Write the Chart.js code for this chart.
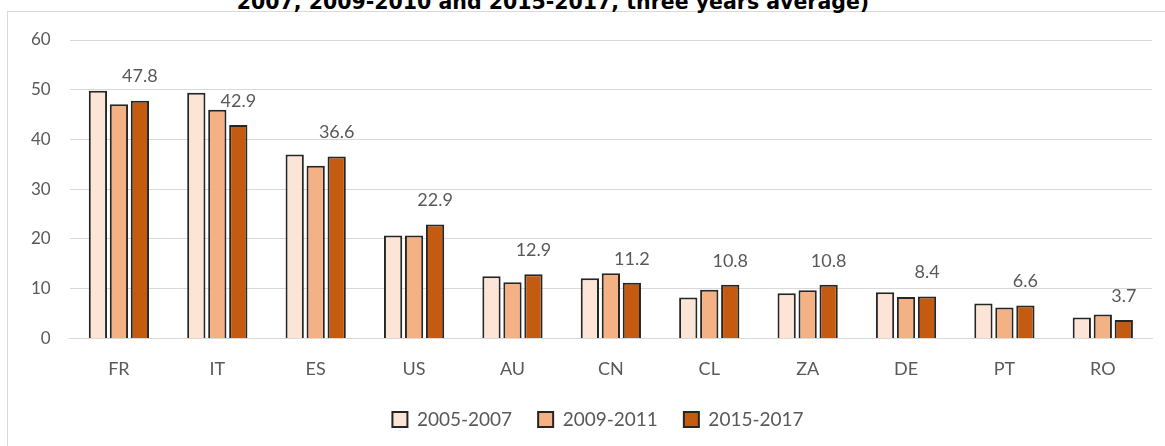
<!DOCTYPE html>
<html>
<head>
<meta charset="utf-8">
<script src="https://cdn.jsdelivr.net/npm/chart.js@4"></script>
<style>
  html, body { margin: 0; padding: 0; background: #fff; overflow: hidden; }
  #wrap { position: relative; width: 1165px; height: 446px; }
  #frame { position: absolute; left: 7px; top: 11px; width: 1200px; height: 500px; border: 1px solid #d9d9d9; box-sizing: border-box; }
  #title { position: absolute; left: 0; width: 1106px; top: -9px; text-align: center;
           font: bold 20.5px "DejaVu Sans", Verdana, sans-serif; color: #000; line-height: 22px; white-space: nowrap; }
  #chartBox { position: absolute; left: 0; top: 0; width: 1165px; height: 446px; }
</style>
</head>
<body>
<div id="wrap">
  <div id="frame"></div>
  <div id="title">2007, 2009-2010 and 2015-2017, three years average)</div>
  <div id="chartBox"><canvas id="wineChart"></canvas></div>
</div>
<script>
// categories and series
var countries = ['FR', 'IT', 'ES', 'US', 'AU', 'CN', 'CL', 'ZA', 'DE', 'PT', 'RO'];
var avg2005_2007 = [49.8, 49.4, 37.0, 20.7, 12.5, 12.1, 8.2, 9.1, 9.3, 7.0, 4.2];
var avg2009_2011 = [47.1, 46.0, 34.7, 20.7, 11.3, 13.1, 9.8, 9.7, 8.3, 6.2, 4.8];
var avg2015_2017 = [47.8, 42.9, 36.6, 22.9, 12.9, 11.2, 10.8, 10.8, 8.4, 6.6, 3.7];
var seriesNames = ['2005-2007', '2009-2011', '2015-2017'];
var yTicks = [0, 10, 20, 30, 40, 50, 60];

var gray = '#595959';
var mainFont = 'Lato, "Open Sans", sans-serif';

// value labels over the last series only
var lastValueLabels = {
  id: 'lastValueLabels',
  afterDatasetsDraw: function(chart) {
    var ctx = chart.ctx;
    var meta = chart.getDatasetMeta(2);
    ctx.save();
    ctx.font = '18px ' + mainFont;
    ctx.fillStyle = gray;
    ctx.textAlign = 'center';
    ctx.textBaseline = 'middle';
    meta.data.forEach(function(bar, i) {
      ctx.fillText(avg2015_2017[i].toFixed(1), bar.x, bar.y - 24);
    });
    ctx.restore();
  }
};

// legend sits a bit right of centre (and a bit higher) in the original
var legendShift = {
  id: 'legendShift',
  afterLayout: function(chart) {
    if (chart.legend) {
      chart.legend.left += 16;
      chart.legend.right += 16;
      chart.legend.top -= 16;
      chart.legend.bottom -= 16;
    }
  }
};

var ctx = document.getElementById('wineChart').getContext('2d');
new Chart(ctx, {
  type: 'bar',
  data: {
    labels: countries,
    datasets: [{
      label: seriesNames[0],
      data: avg2005_2007,
      backgroundColor: '#FCE4D6',
      borderColor: '#262626',
      borderWidth: 2
    }, {
      label: seriesNames[1],
      data: avg2009_2011,
      backgroundColor: '#F4B183',
      borderColor: '#262626',
      borderWidth: 2
    }, {
      label: seriesNames[2],
      data: avg2015_2017,
      backgroundColor: '#C55A11',
      borderColor: '#262626',
      borderWidth: 2
    }]
  },
  plugins: [lastValueLabels, legendShift],
  options: {
    responsive: true,
    maintainAspectRatio: false,
    animation: false,
    datasets: {
      bar: { categoryPercentage: 0.64, barPercentage: 0.87 }
    },
    layout: { padding: { top: 40, right: 13, bottom: -9, left: 12 } },
    scales: {
      x: {
        grid: { display: false, drawTicks: false },
        border: { display: true, color: '#d9d9d9', width: 1 },
        ticks: { color: gray, font: { family: mainFont, size: 18 }, padding: 20 }
      },
      y: {
        min: 0,
        max: 60,
        afterBuildTicks: function(axis) {
          axis.ticks = yTicks.map(function(v) { return { value: v }; });
        },
        grid: { color: '#d9d9d9', lineWidth: 1, drawTicks: false },
        border: { display: false },
        ticks: { color: gray, font: { family: mainFont, size: 17 }, padding: 19 }
      }
    },
    plugins: {
      title: { display: false },
      tooltip: { enabled: false },
      legend: {
        position: 'bottom',
        labels: {
          color: gray,
          font: { family: mainFont, size: 19 },
          boxWidth: 15,
          boxHeight: 15,
          padding: 26,
          generateLabels: function(chart) {
            return chart.data.datasets.map(function(ds, i) {
              return {
                text: ds.label,
                fillStyle: ds.backgroundColor,
                strokeStyle: '#262626',
                lineWidth: 2,
                fontColor: gray,
                datasetIndex: i
              };
            });
          }
        }
      }
    }
  }
});
</script>
</body>
</html>
